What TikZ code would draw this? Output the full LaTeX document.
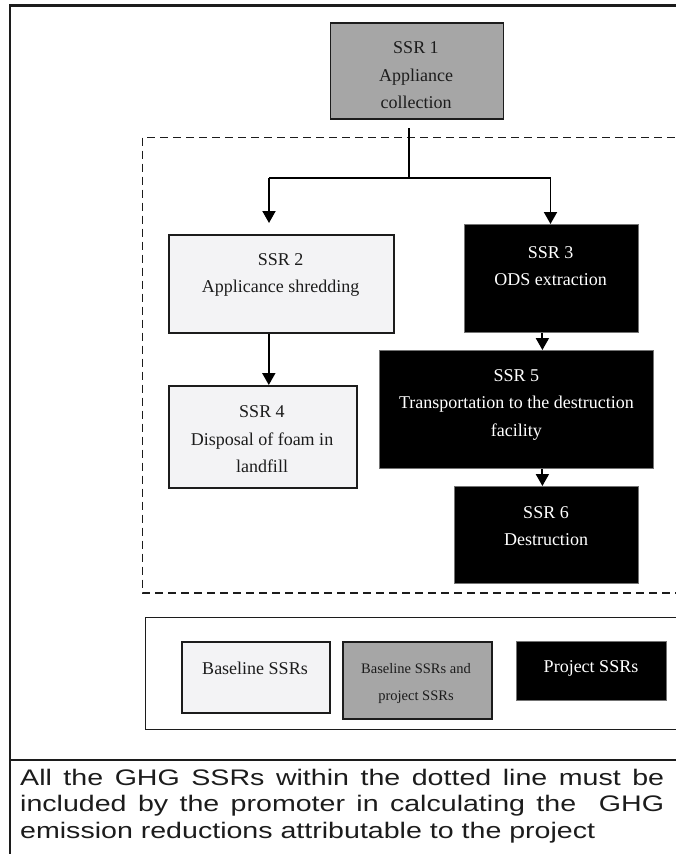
\documentclass[tikz,border=0pt]{standalone}
\usepackage{fontspec}
\setmainfont{Liberation Serif}
\newfontfamily\notefont[FakeStretch=1.27]{Liberation Sans}
\usetikzlibrary{arrows.meta}
\definecolor{boxlight}{HTML}{F3F3F5}
\definecolor{boxgray}{HTML}{A6A6A6}
\definecolor{inkdark}{HTML}{1C1C1C}
\tikzset{
  frameline/.style={line width=2.3pt, draw=inkdark},
  regionline/.style={line width=1.8pt, draw=inkdark, dash pattern=on 8pt off 5pt},
  legendframe/.style={line width=1.7pt, draw=inkdark},
  basebox/.style={inner sep=0pt, anchor=north west, line width=1.6pt},
  lightbox/.style={basebox, draw=inkdark, fill=boxlight},
  graybox/.style={basebox, draw=inkdark, fill=boxgray},
  darkbox/.style={basebox, draw=black!55, line width=0.8pt, fill=black},
  boxtext/.style={font=\fontsize{18}{27.5}\selectfont, align=center, inner sep=0pt, text=inkdark},
  darktext/.style={boxtext, text=white},
  smalltext/.style={boxtext, font=\fontsize{14.5}{27}\selectfont},
  notetext/.style={font=\notefont\fontsize{22.5}{26.5}\selectfont, align=left, inner sep=0pt, anchor=north west, text=inkdark},
  conn/.style={line width=1.9pt, draw=black},
  arr/.style={conn, -{Triangle[length=12pt,width=13pt]}},
}
\begin{document}
\begin{tikzpicture}[x=1pt,y=-1pt]
\clip (0,0) rectangle (676,854);
\fill[white] (0,0) rectangle (676,854);
% outer frame (cropped on the right and bottom)
\draw[frameline] (10,870) -- (10,5.5) -- (700,5.5);
\draw[frameline] (10,760) -- (700,760);
% dashed boundary
\draw[regionline] (142.5,137.5) rectangle (720,593);
% legend frame
\draw[legendframe] (145.5,617.5) rectangle (720,729.5);

% SSR boxes
\node[graybox, minimum width=173pt, minimum height=96pt] (s1) at (329.5,22) {};
\node[lightbox, minimum width=225pt, minimum height=98pt] (s2) at (168,234) {};
\node[darkbox, minimum width=174pt, minimum height=108pt] (s3) at (464,224) {};
\node[lightbox, minimum width=188pt, minimum height=102pt] (s4) at (168,385) {};
\node[darkbox, minimum width=274pt, minimum height=118pt] (s5) at (379,350) {};
\node[darkbox, minimum width=184pt, minimum height=97pt] (s6) at (454,486) {};

\node[boxtext] (s1t) at (416,75.5) {SSR 1\\Appliance\\collection};
\node[boxtext] (s2t) at (280.7,275) {SSR 2\\Applicance shredding};
\node[darktext] (s3t) at (550.7,266) {SSR 3\\ODS extraction};
\node[boxtext] (s4t) at (262,439.5) {SSR 4\\Disposal of foam in\\landfill};
\node[darktext] (s5t) at (516.4,404.5) {SSR 5\\Transportation to the destruction\\facility};
\node[darktext] (s6t) at (546,526) {SSR 6\\Destruction};

% connectors
\coordinate (c0) at (409,128);
\coordinate (c1) at (409,178);
\coordinate (cl) at (269,178);
\coordinate (cr) at (550.5,178);
\coordinate (a2) at (269,223);
\draw[conn] (c0) -- (c1);
\draw[conn] (cl) -- (cr);
\draw[arr] (cl) -- (a2);
\draw[arr] (cr) -- (cr |- s3.north);
\draw[arr] ([xshift=-12.5pt]s2.south) -- ([xshift=-12.5pt]s2.south |- s4.north);
\draw[arr] ([xshift=-9pt]s3.south) -- ([xshift=-9pt]s3.south |- s5.north);
\draw[arr] ([xshift=26pt]s5.south) -- ([xshift=26pt]s5.south |- s6.north);

% legend
\node[lightbox, minimum width=148pt, minimum height=71pt] (lb) at (181,641) {};
\node[graybox, minimum width=149pt, minimum height=77pt] (lg) at (342,641) {};
\node[darkbox, minimum width=150pt, minimum height=59pt] (lp) at (516,641) {};
\node[boxtext] (lbt) at (255,668) {Baseline SSRs};
\node[smalltext] (lgt) at (416,683.5) {Baseline SSRs and\\project SSRs};
\node[darktext] (lpt) at (591,668) {Project SSRs};

% note
\node[notetext] (note) at (20,768.5) {\makebox[644pt][s]{All the GHG SSRs within the dotted line must be}\\
\makebox[644pt][s]{included by the promoter in calculating the\ \ GHG}\\
emission reductions attributable to the project};
\end{tikzpicture}
\end{document}
